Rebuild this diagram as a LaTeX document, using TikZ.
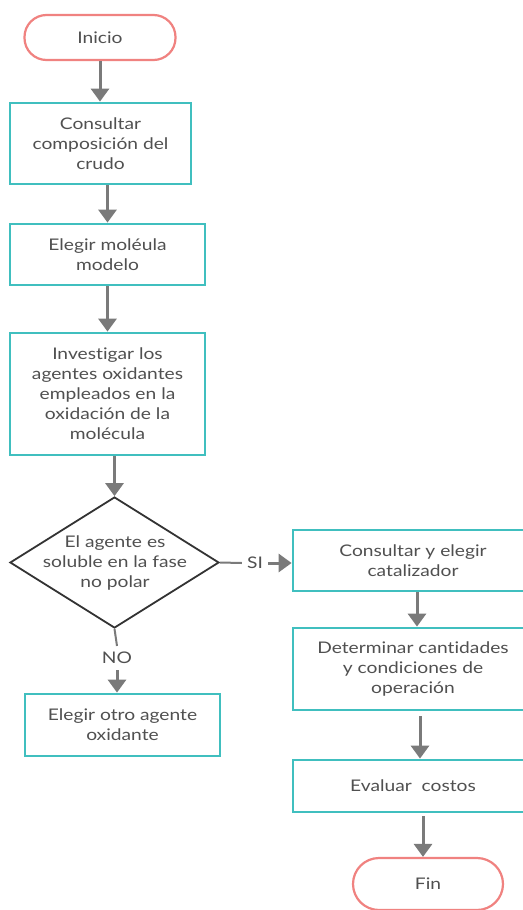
\documentclass[tikz,border=0pt]{standalone}
\usepackage{fontspec}
\setmainfont{Lato}[FakeStretch=1.2,Ligatures=NoCommon]
\usetikzlibrary{shapes.geometric,arrows.meta,calc}
\definecolor{teal1}{RGB}{64,191,191}
\definecolor{red1}{RGB}{240,130,128}
\definecolor{arr}{RGB}{122,122,122}
\definecolor{txt}{RGB}{80,80,80}
\begin{document}
\begin{tikzpicture}[x=1pt,y=-1pt,
  every node/.style={font=\fontsize{16}{20}\selectfont, text=txt, align=center, inner sep=0pt},
  proc/.style={draw=teal1, line width=2.8pt, fill=white},
  term/.style={draw=red1, line width=2.2pt, rounded corners=22pt, fill=white},
  arrow/.style={draw=arr, line width=3pt, -{Triangle[width=18pt,length=13pt]}},
  plain/.style={draw=arr, line width=3pt}]
\useasboundingbox (0,0) rectangle (522,910);
\fill[white] (0,0) rectangle (522,910);
\node[term, minimum width=151, minimum height=45] (ini) at (100,37.5) {Inicio};
\node[proc, minimum width=181, minimum height=81] (b1) at (100.5,143.5) {Consultar\\composición del\\crudo};
\node[proc, minimum width=195, minimum height=61] (b2) at (107.5,254.5) {Elegir moléula\\modelo};
\node[proc, minimum width=195, minimum height=122] (b3) at (107.5,394) {Investigar los\\agentes oxidantes\\empleados en la\\oxidación de la\\molécula};
\node[diamond, draw=black!80, line width=1.8pt, minimum width=209, minimum height=131] (d) at (114.5,562.5) {};
\node at (115,563) {El agente es\\soluble en la fase\\no polar};
\node (si) at (255,563) {SI};
\node (no) at (117,658) {NO};
\node[proc, minimum width=195, minimum height=62] (b7) at (122.5,725) {Elegir otro agente\\oxidante};
\node[proc, minimum width=240, minimum height=61] (b4) at (413,560.5) {Consultar y elegir\\catalizador};
\node[proc, minimum width=240, minimum height=82] (b5) at (413,669) {Determinar cantidades\\y condiciones de\\operación};
\node[proc, minimum width=240, minimum height=52] (b6) at (413,786) {Evaluar\ \ costos};
\node[term, minimum width=150, minimum height=52, rounded corners=26pt] (fin) at (428,884) {Fin};
\draw[arrow] (ini.south) -- (b1.north -| ini.south);
\draw[arrow] (b1.south -| b2.north) -- (b2.north);
\draw[arrow] (b2.south) -- (b3.north);
\draw[arrow] (b3.south -| d.north) -- (d.north);
\draw[plain, line width=2pt] (d.east) -- ($(si.west)+(-5,0)$);
\draw[arrow] ($(si.east)+(5,0)$) -- (si.east -| b4.west);
\draw[plain, line width=2pt] (d.south) -- ($(no.north)+(0,-6)$);
\draw[arrow] ($(no.south)+(0,6)$) -- (b7.north -| no.south);
\draw[arrow] ($(b4.south)+(4,0)$) -- ($(b5.north)+(4,0)$);
\draw[arrow] ($(b5.south)+(7,5)$) -- ($(b6.north)+(7,0)$);
\draw[arrow] ($(b6.south)+(10,3)$) -- ($(fin.north)+(-5,0)$);
\end{tikzpicture}
\end{document}
